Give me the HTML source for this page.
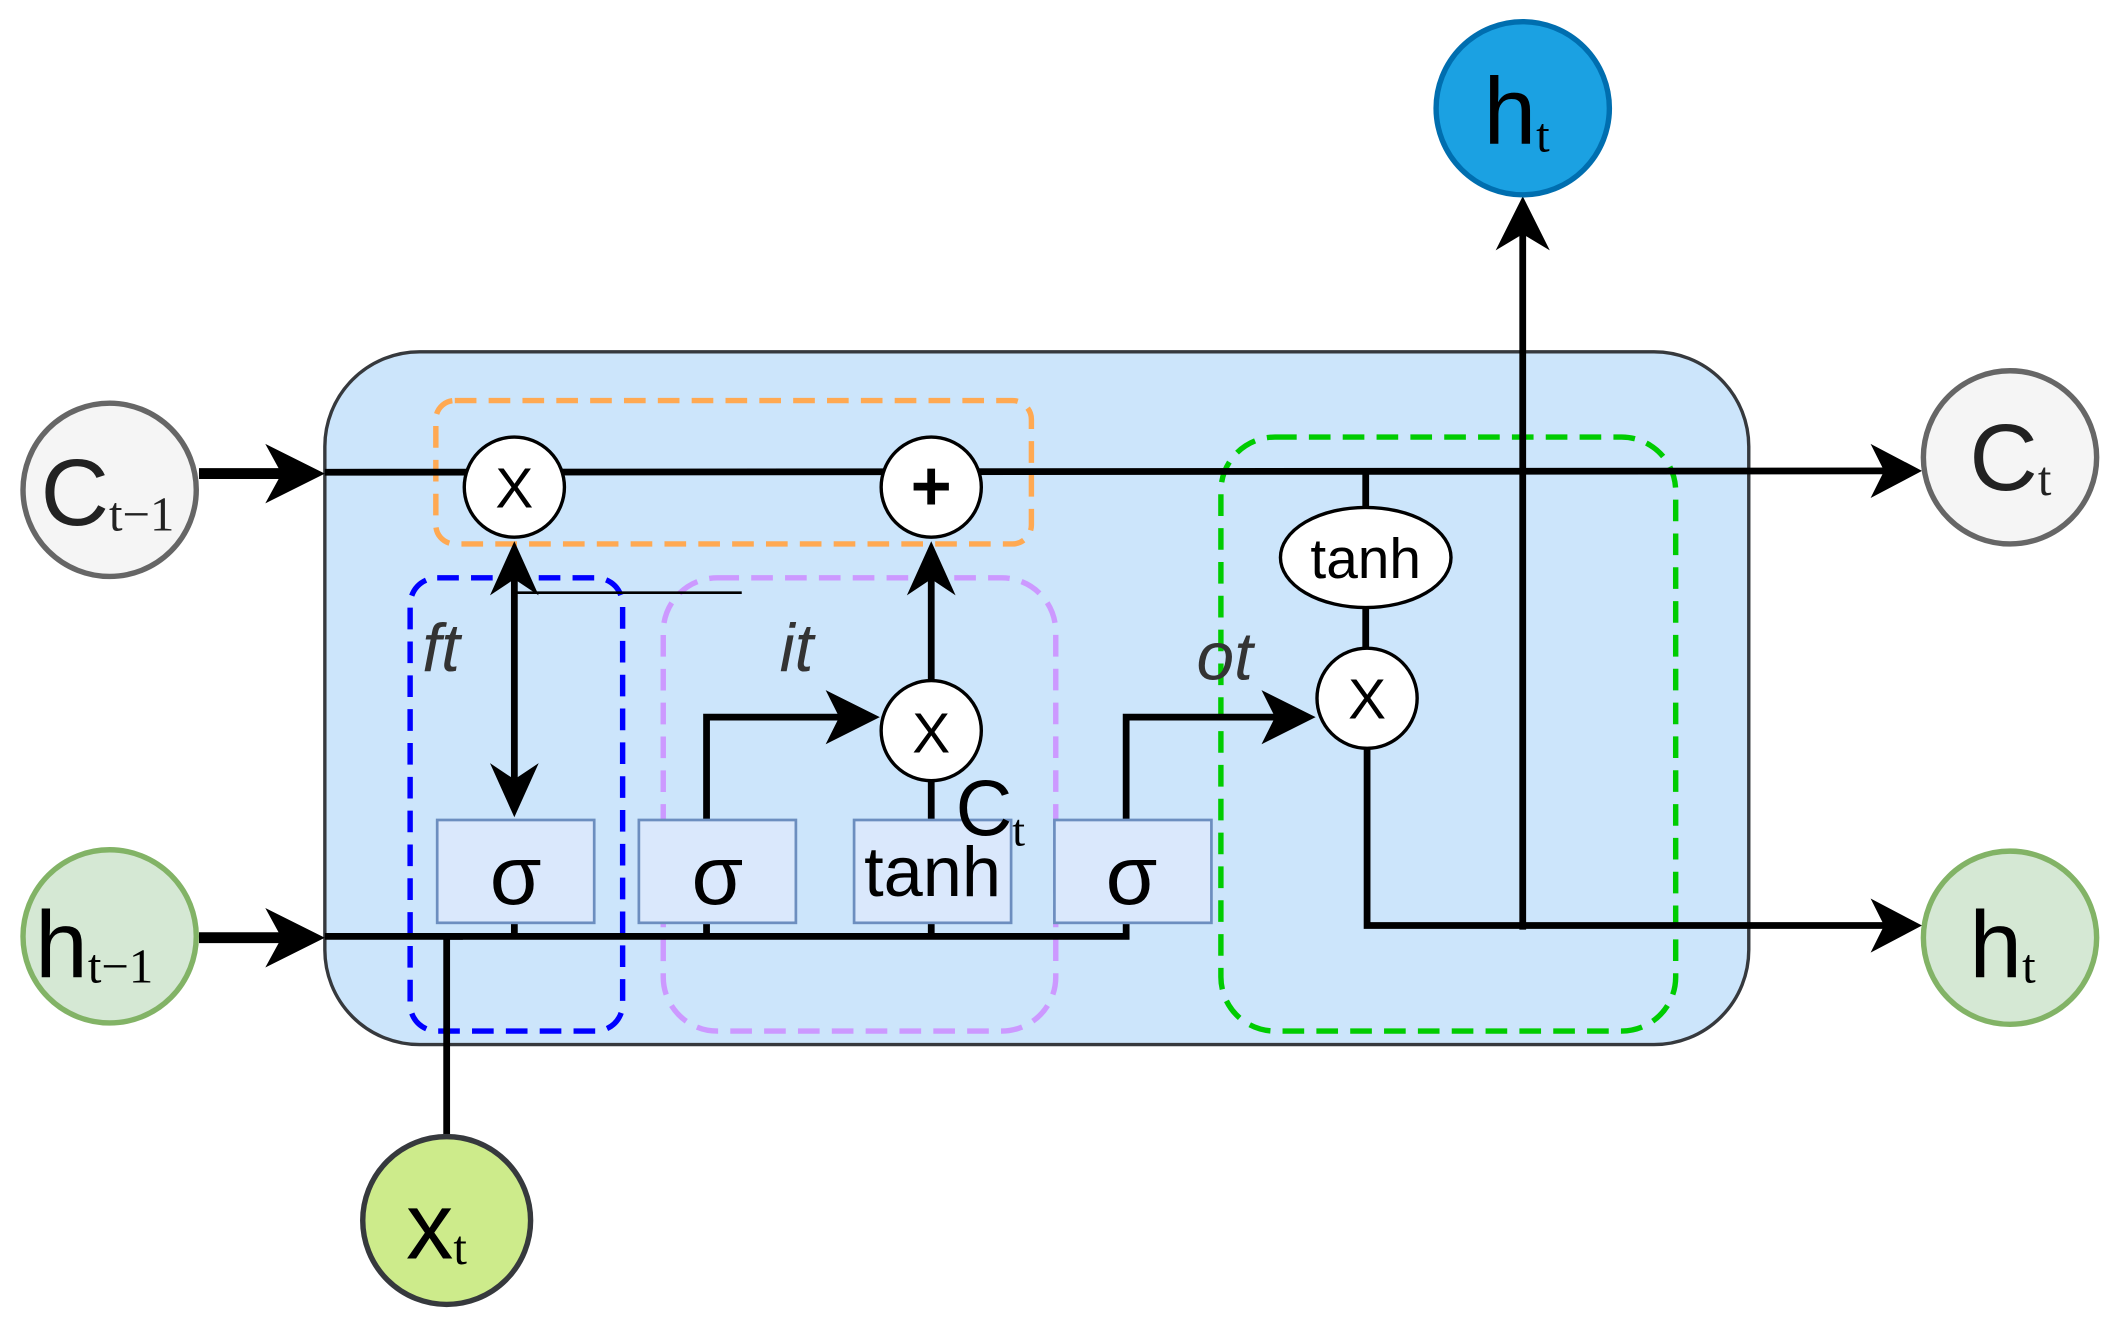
<!DOCTYPE html>
<html><head><meta charset="utf-8"><style>html,body{margin:0;padding:0;background:#fff}svg{display:block}</style></head><body>
<svg width="2121" height="1322" viewBox="0 0 1567 977" preserveAspectRatio="none" xmlns="http://www.w3.org/2000/svg" font-family="Liberation Sans, sans-serif">
<rect x="240" y="260" width="1052" height="512" rx="70" fill="#cce5fb" stroke="#36393d" stroke-width="2.5"/>
<g fill="none" stroke-width="4" stroke-dasharray="16 9">
<rect x="322" y="296" width="440" height="106" rx="14" stroke="#ffa952"/>
<rect x="303" y="427" width="157" height="335" rx="20" stroke="#0000ff"/>
<rect x="490" y="427" width="290" height="335" rx="40" stroke="#cc99ff"/>
<rect x="902" y="323" width="336" height="439" rx="40" stroke="#00cc00"/>
</g>
<g stroke="#000" fill="none" stroke-linecap="butt">
<line x1="147" y1="350" x2="215" y2="350" stroke-width="8"/>
<line x1="240" y1="349" x2="1400" y2="348" stroke-width="5"/>
<line x1="147" y1="693" x2="215" y2="693" stroke-width="8"/>
<polyline points="240,692 832,692 832,530 950,530" stroke-width="5"/>
<polyline points="330,840 330,692 342,692" stroke-width="5"/>
<line x1="380" y1="415" x2="380" y2="585" stroke-width="5"/>
<line x1="380" y1="438" x2="548" y2="438" stroke-width="2"/>
<polyline points="522,692 522,530 630,530" stroke-width="5"/>
<line x1="688" y1="503" x2="688" y2="420" stroke-width="5"/>
<line x1="688" y1="606" x2="688" y2="577" stroke-width="5"/>
<line x1="380" y1="682" x2="380" y2="692" stroke-width="5"/>
<line x1="688" y1="682" x2="688" y2="692" stroke-width="5"/>
<line x1="1009" y1="349" x2="1009" y2="376" stroke-width="5"/>
<line x1="1009" y1="448" x2="1009" y2="480" stroke-width="5"/>
<polyline points="1010,553 1010,684 1400,684" stroke-width="5"/>
<line x1="1125" y1="687" x2="1125" y2="170" stroke-width="5"/>
</g>
<g fill="#000">
<polygon points="240,350 196,328 208,350 196,372"/>
<polygon points="240,693 196,671 208,693 196,715"/>
<polygon points="1420,348 1382,328 1392,348 1382,368"/>
<polygon points="1420,684 1382,664 1392,684 1382,704"/>
<polygon points="1125,145 1105,185 1125,173 1145,185"/>
<polygon points="650,530 610,510 620,530 610,550"/>
<polygon points="972,530 932,510 942,530 932,550"/>
<polygon points="380,400 362,440 380,428 398,440"/>
<polygon points="380,604 362,564 380,576 398,564"/>
<polygon points="688,400 670,440 688,428 706,440"/>
</g>
<g fill="#dae8fc" stroke="#6c8ebf" stroke-width="2">
<rect x="323" y="606" width="116" height="76"/>
<rect x="472" y="606" width="116" height="76"/>
<rect x="631" y="606" width="116" height="76"/>
<rect x="779" y="606" width="116" height="76"/>
</g>
<g font-size="62" text-anchor="middle">
<text x="381" y="668">σ</text><text x="530" y="668">σ</text><text x="836" y="668">σ</text>
</g>
<text x="689" y="662" font-size="52" text-anchor="middle">tanh</text>
<g fill="#fff" stroke="#000" stroke-width="2.5">
<circle cx="380" cy="360" r="37"/><circle cx="688" cy="360" r="37"/>
<circle cx="688" cy="540" r="37"/><circle cx="1010" cy="516" r="37"/>
<ellipse cx="1009" cy="412" rx="63" ry="37"/>
</g>
<g font-size="42" text-anchor="middle">
<text x="380" y="375">X</text><text x="688" y="556">X</text><text x="1010" y="531">X</text>
<text x="688" y="377" font-size="52" font-weight="bold">+</text>
<text x="1009" y="427" font-size="42">tanh</text>
</g>
<g font-size="50" font-style="italic" fill="#333">
<text x="312" y="496">ft</text><text x="576" y="496">it</text><text x="884" y="502">ot</text>
</g>
<text x="706" y="617" font-size="58">C<tspan font-family="Liberation Serif, serif" font-size="34" dy="8">t</tspan></text>
<circle cx="81" cy="362" r="64" fill="#f5f5f5" stroke="#666" stroke-width="4"/>
<circle cx="81" cy="692" r="64" fill="#d5e8d4" stroke="#82b366" stroke-width="4"/>
<circle cx="330" cy="902" r="62" fill="#cdeb8b" stroke="#36393d" stroke-width="4"/>
<circle cx="1125" cy="80" r="64" fill="#1ba1e2" stroke="#006eaf" stroke-width="4"/>
<circle cx="1485" cy="338" r="64" fill="#f5f5f5" stroke="#666" stroke-width="4"/>
<circle cx="1485" cy="693" r="64" fill="#d5e8d4" stroke="#82b366" stroke-width="4"/>
<g font-size="70">
<text x="30" y="388" fill="#222">C<tspan font-family="Liberation Serif, serif" font-size="36" dy="4">t−1</tspan></text>
<text x="26" y="722">h<tspan font-family="Liberation Serif, serif" font-size="36" dy="4">t−1</tspan></text>
<text x="300" y="930">x<tspan font-family="Liberation Serif, serif" font-size="36" dy="4">t</tspan></text>
<text x="1096" y="106">h<tspan font-family="Liberation Serif, serif" font-size="36" dy="6">t</tspan></text>
<text x="1455" y="362" fill="#222">C<tspan font-family="Liberation Serif, serif" font-size="36" dy="4">t</tspan></text>
<text x="1455" y="722">h<tspan font-family="Liberation Serif, serif" font-size="36" dy="4">t</tspan></text>
</g>
</svg>
</body></html>
